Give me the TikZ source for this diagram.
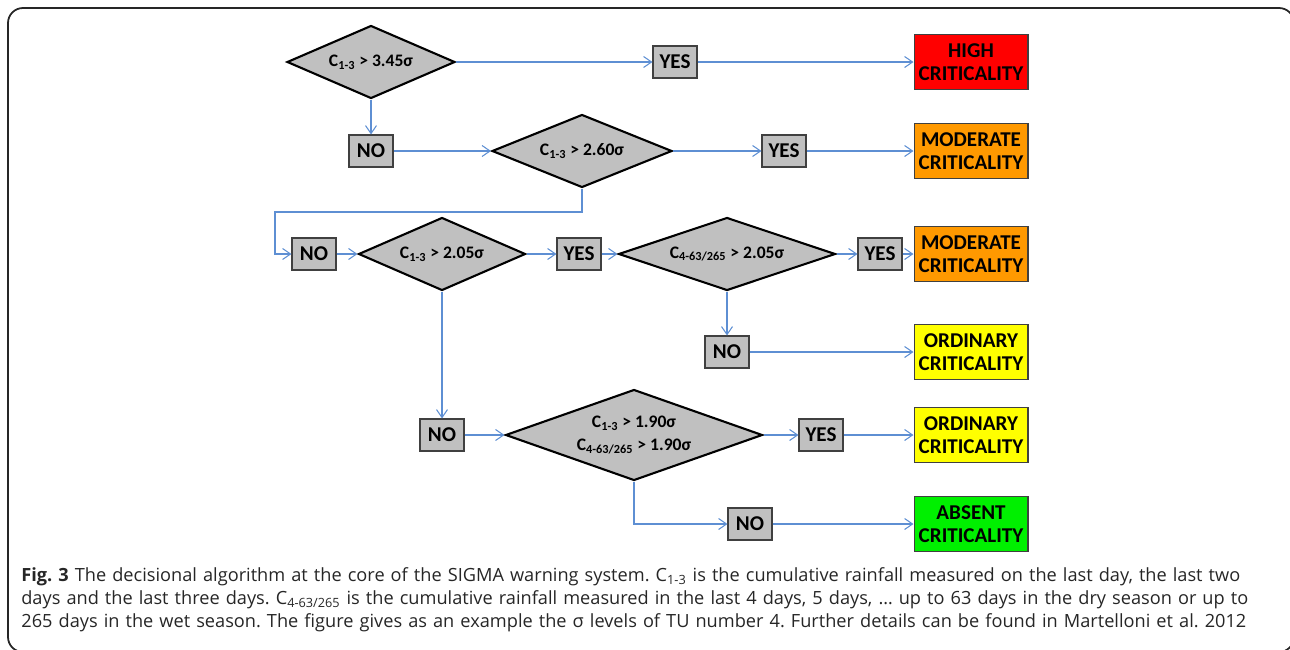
\documentclass[tikz,border=0pt]{standalone}
\usepackage{fontspec}
\setmainfont{Carlito}
\newfontfamily\capfont{Open Sans}
\usetikzlibrary{shapes.geometric, arrows.meta, positioning}
\frenchspacing

\definecolor{boxgray}{HTML}{C0C0C0}
\definecolor{linkblue}{HTML}{5E8FD3}
\definecolor{highred}{HTML}{FF0000}
\definecolor{modorange}{HTML}{FF9900}
\definecolor{ordyellow}{HTML}{FFFF00}
\definecolor{absgreen}{HTML}{00F000}

\begin{document}
\begin{tikzpicture}[
    x=0.02cm, y=-0.02cm,
    test/.style={diamond, aspect=2.5, draw=black, line width=1.2pt, fill=boxgray, inner sep=1pt, align=center, font=\bfseries\fontsize{10}{13}\selectfont},
    answer/.style={rectangle, draw=black!75, line width=0.6pt, fill=boxgray, minimum width=0.88cm, minimum height=0.64cm, inner sep=0pt, font=\bfseries\fontsize{12}{13}\selectfont},
    level/.style={rectangle, draw=black!75, line width=0.6pt, minimum width=2.28cm, minimum height=1.1cm, inner sep=0pt, align=center, font=\bfseries\fontsize{12}{13}\selectfont},
    arrow/.style={-{Straight Barb[length=1.6mm, width=2.2mm]}, draw=linkblue, line width=0.6pt},
    caption/.style={anchor=north west, inner sep=0pt, text width=26cm, align=left, text=black!85, font=\capfont\fontsize{10.35}{13.1}\selectfont}
]
\useasboundingbox (0,0) rectangle (1290,649);
\draw[black!85, line width=1pt, rounded corners=0.3cm] (8,8) rectangle (1294,652);

% Tests
\node[test, minimum width=3.36cm, minimum height=1.46cm] (t1) at (371,62) {C\textsubscript{1-3} > 3.45σ};
\node[test, minimum width=3.6cm, minimum height=1.46cm] (t2) at (582,151) {C\textsubscript{1-3} > 2.60σ};
\node[test, minimum width=3.34cm, minimum height=1.46cm] (t3) at (442,254) {C\textsubscript{1-3} > 2.05σ};
\node[test, minimum width=4.34cm, minimum height=1.46cm] (t4) at (727,254) {C\textsubscript{4-63/265} > 2.05σ};
\node[test, aspect=2.8, minimum width=5.14cm, minimum height=1.82cm] (t5) at (634,435) {C\textsubscript{1-3} > 1.90σ\\C\textsubscript{4-63/265} > 1.90σ};

% Answers
\node[answer] (yes1) at (675,62) {YES};
\node[answer] (no1) at (371,151) {NO};
\node[answer] (yes2) at (784,151) {YES};
\node[answer] (no2) at (314,254) {NO};
\node[answer] (yes3) at (579,254) {YES};
\node[answer] (yes4) at (880,254) {YES};
\node[answer] (no3) at (727,352) {NO};
\node[answer] (no4) at (442,435) {NO};
\node[answer] (yes5) at (821,435) {YES};
\node[answer] (no5) at (750,524) {NO};

% Criticality levels
\node[level, fill=highred] (high) at (971,62) {HIGH\\CRITICALITY};
\node[level, fill=modorange] (mod1) at (971,151) {MODERATE\\CRITICALITY};
\node[level, fill=modorange] (mod2) at (971,254) {MODERATE\\CRITICALITY};
\node[level, fill=ordyellow] (ord1) at (971,352) {ORDINARY\\CRITICALITY};
\node[level, fill=ordyellow] (ord2) at (971,435) {ORDINARY\\CRITICALITY};
\node[level, fill=absgreen] (absent) at (971,524) {ABSENT\\CRITICALITY};

\coordinate (loop) at (275,212);

% Arrows
\draw[arrow] (t1) -- (yes1);
\draw[arrow] (yes1) -- (high);
\draw[arrow] (t1) -- (no1);
\draw[arrow] (no1) -- (t2);
\draw[arrow] (t2) -- (yes2);
\draw[arrow] (yes2) -- (mod1);
\draw[arrow] (t2.south) |- (loop) |- (no2.west);
\draw[arrow] (no2) -- (t3);
\draw[arrow] (t3) -- (yes3);
\draw[arrow] (yes3) -- (t4);
\draw[arrow] (t4) -- (yes4);
\draw[arrow] (yes4) -- (mod2);
\draw[arrow] (t4) -- (no3);
\draw[arrow] (no3) -- (ord1);
\draw[arrow] (t3) -- (no4);
\draw[arrow] (no4) -- (t5);
\draw[arrow] (t5) -- (yes5);
\draw[arrow] (yes5) -- (ord2);
\draw[arrow] (t5.south) |- (no5.west);
\draw[arrow] (no5) -- (absent);

% Caption
\node[caption] (cap) at (21,567) {\textbf{Fig. 3} The decisional algorithm at the core of the SIGMA warning system. C\textsubscript{1-3} is the cumulative rainfall measured on the last day, the last two\\days and the last three days. C\textsubscript{4-63/265} is the cumulative rainfall measured in the last 4 days, 5 days, … up to 63 days in the dry season or up to\\265 days in the wet season. The figure gives as an example the σ levels of TU number 4. Further details can be found in Martelloni et al. 2012};

\end{tikzpicture}
\end{document}
